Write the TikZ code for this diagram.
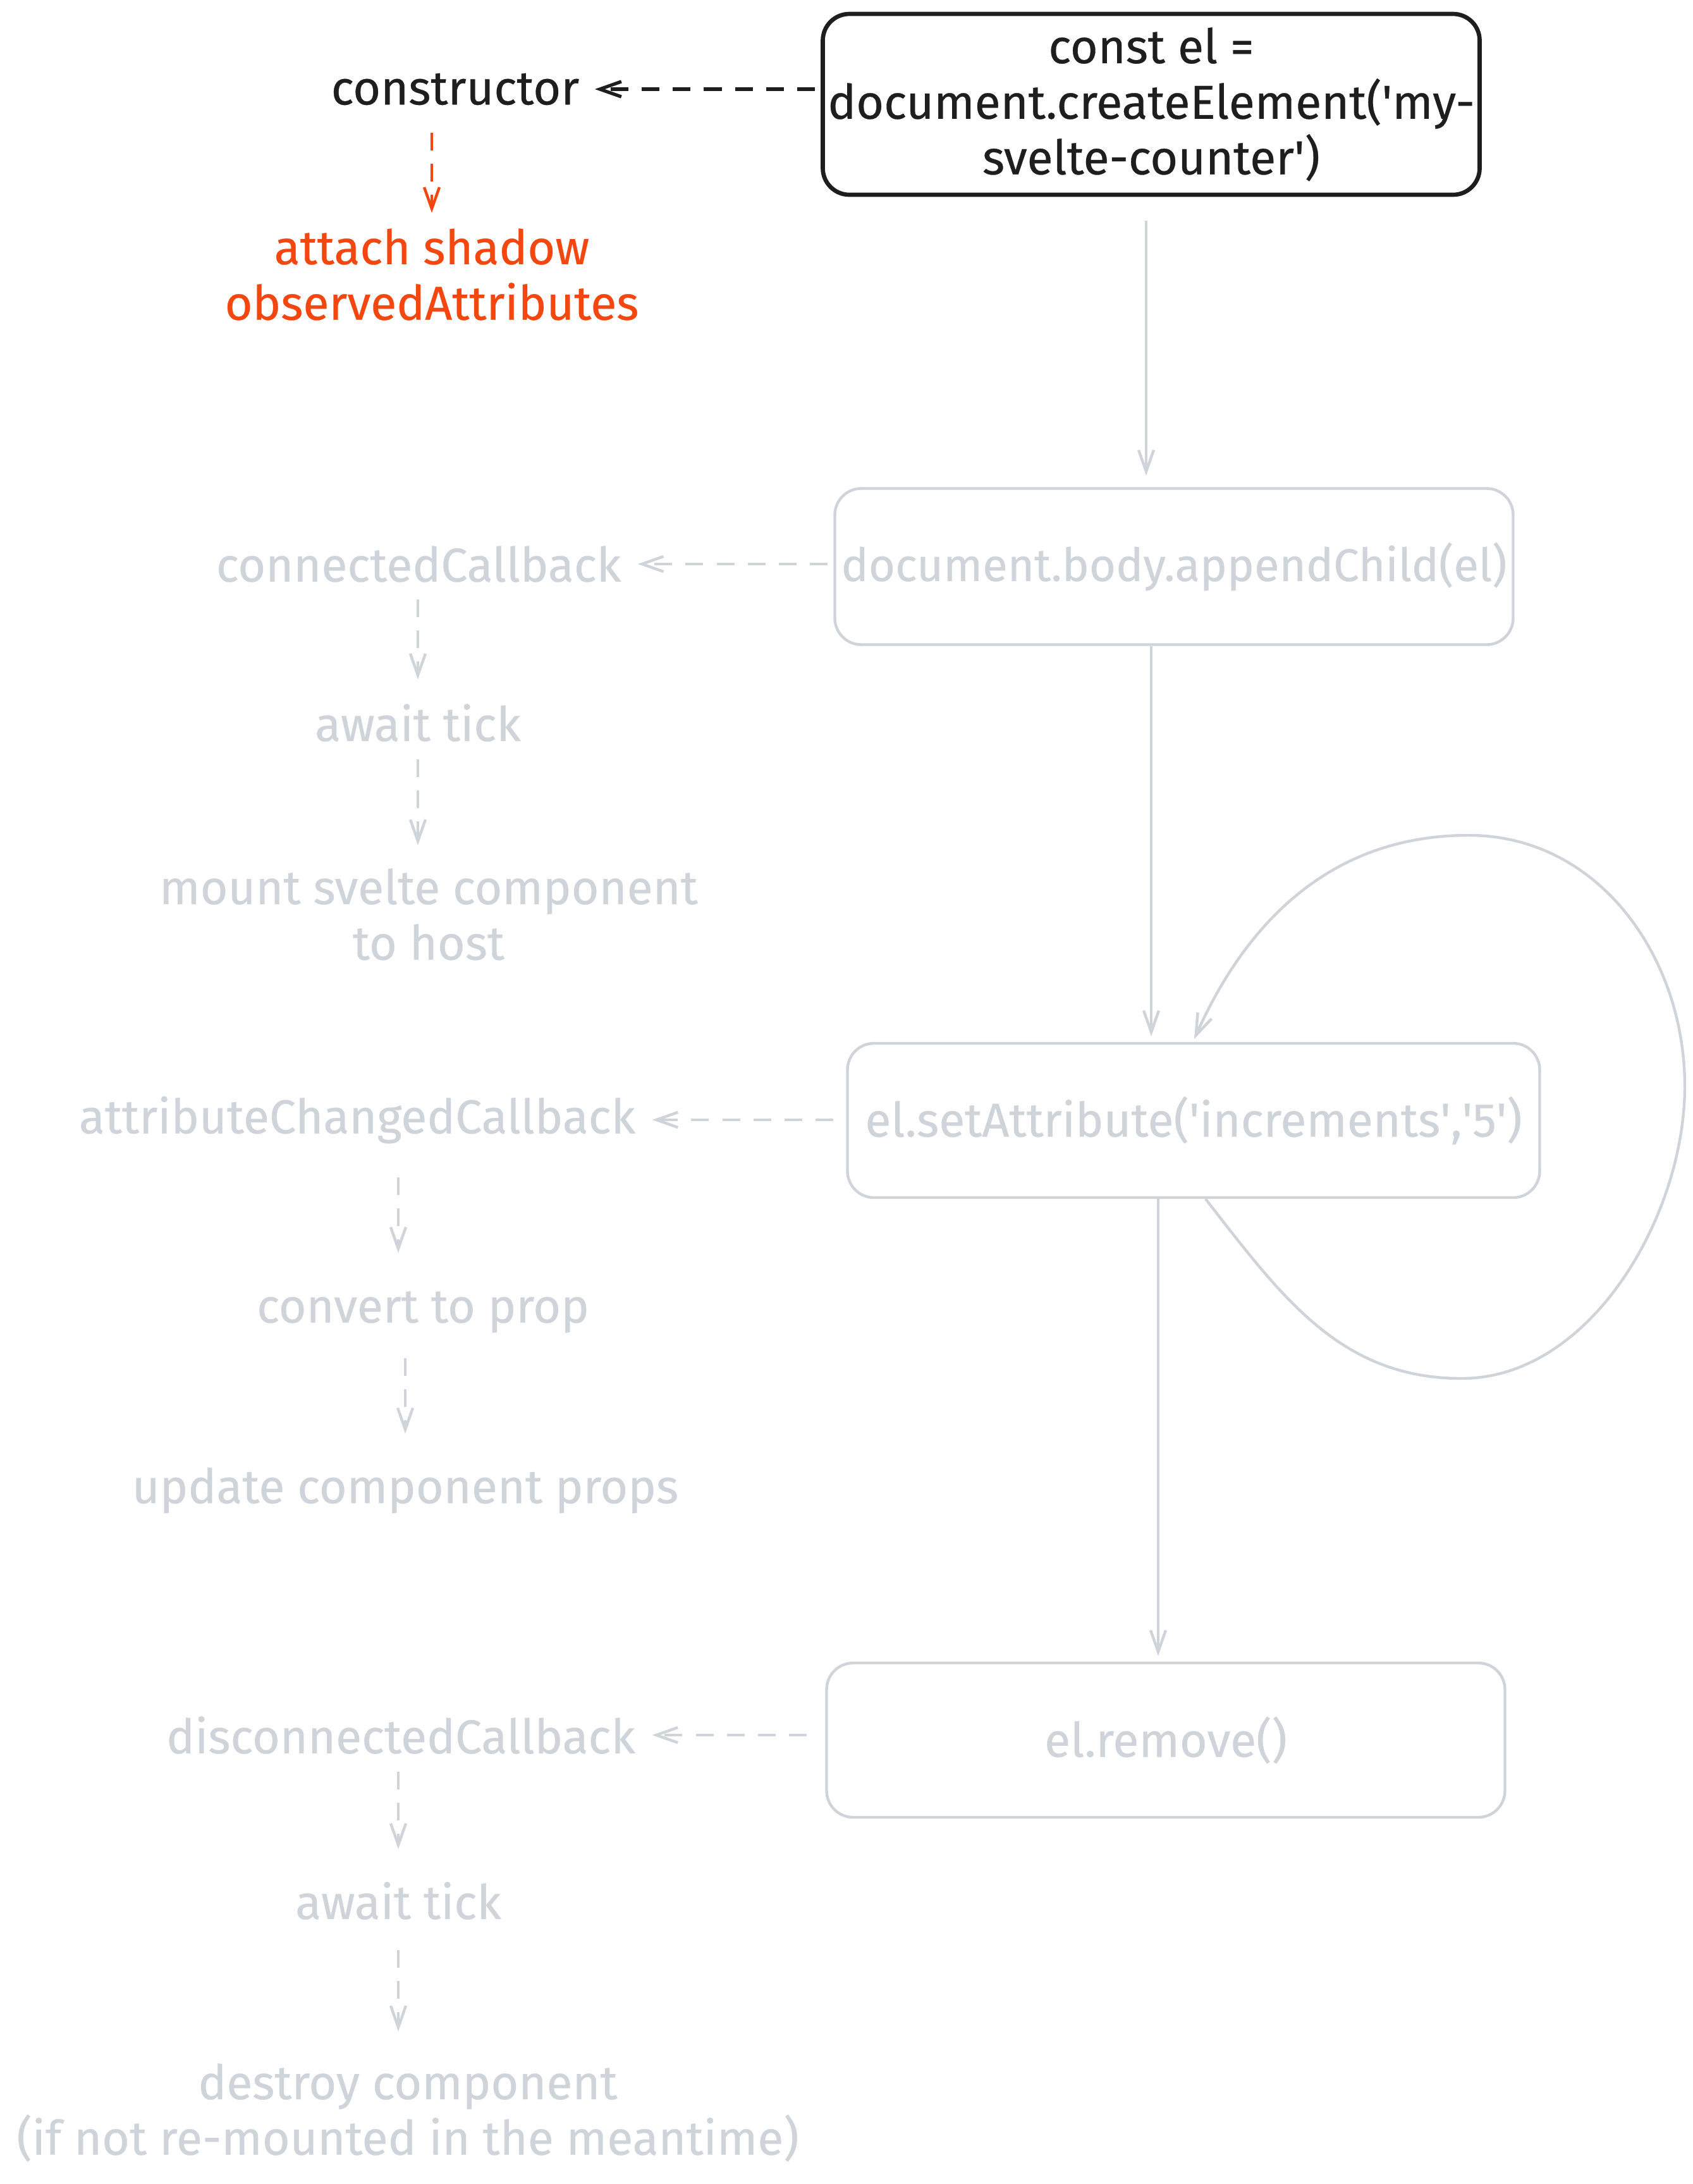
\documentclass[tikz,border=0pt]{standalone}
\usepackage{fontspec}
\setmainfont{Fira Sans}[UprightFeatures={FakeBold=0.4}]
\usetikzlibrary{arrows.meta}
\definecolor{ink}{HTML}{1E1E1E}
\definecolor{hot}{HTML}{F4470F}
\definecolor{mist}{HTML}{CED4DA}
\newcommand{\sq}{\textquotesingle}
\tikzset{
  hand/.style={font=\fontsize{21.4}{25}\selectfont},
  elbox/.style={hand, draw, align=center, rounded corners=0.42cm, inner sep=0pt, line width=1.25pt},
  cbtext/.style={hand, align=center, inner sep=0pt, minimum height=0.88cm},
  flow/.style={-{Straight Barb[length=0.34cm,width=0.24cm]}, line width=1.25pt},
  hint/.style={flow, dash pattern=on 8pt off 6pt},
}
\begin{document}
\begin{tikzpicture}
  \useasboundingbox (0,0) rectangle (26.78,-34.54);

  % Element calls
  \node[elbox, ink, line width=1.9pt, minimum width=10.39cm, minimum height=2.86cm] (create) at (18.21,-1.65) {const el =\\document.createElement(\sq my-\\svelte-counter\sq)};
  \node[elbox, mist, minimum width=10.73cm, minimum height=2.47cm, font=\fontsize{20.6}{25}\selectfont] (append) at (18.57,-8.96) {document.body.appendChild(el)};
  \node[elbox, mist, minimum width=10.95cm, minimum height=2.44cm] (setattr) at (18.88,-17.72) {el.setAttribute(\sq increments\sq,\sq 5\sq)};
  \node[elbox, mist, minimum width=10.73cm, minimum height=2.44cm] (remove) at (18.44,-27.52) {el.remove()};

  % Callbacks
  \node[cbtext, ink] (ctor) at (7.20,-1.41) {constructor};
  \node[cbtext, hot] (shadow) at (6.83,-4.34) {attach shadow\\observedAttributes};

  \node[cbtext, mist] (connected) at (6.62,-8.92) {connectedCallback};
  \node[cbtext, mist] (await1) at (6.61,-11.43) {await tick};
  \node[cbtext, mist] (mount) at (6.78,-14.46) {mount svelte component\\to host};

  \node[cbtext, mist] (attr) at (5.65,-17.71) {attributeChangedCallback};
  \node[cbtext, mist] (convert) at (6.69,-20.75) {convert to prop};
  \node[cbtext, mist] (update) at (6.41,-23.57) {update component props};

  \node[cbtext, mist] (disc) at (6.34,-27.44) {disconnectedCallback};
  \node[cbtext, mist] (await2) at (6.30,-30.06) {await tick};
  \node[cbtext, mist] (destroy) at (6.45,-33.41) {destroy component\\(if not re-mounted in the meantime)};

  % Main line
  \draw[flow, mist, shorten <=0.38cm, shorten >=0.18cm] ([xshift=-0.08cm]create.south) -- ([xshift=-0.08cm]create.south |- append.north);
  \draw[flow, mist, shorten >=0.09cm] ([xshift=-0.36cm]append.south) -- ([xshift=-0.36cm]append.south |- setattr.north);
  \draw[flow, mist, shorten >=0.09cm] ([xshift=-0.56cm]setattr.south) -- ([xshift=-0.56cm]setattr.south |- remove.north);

  % Loop back
  \coordinate (lpB) at (23.12,-21.80);
  \coordinate (lpR) at (26.65,-17.18);
  \coordinate (lpT) at (23.23,-13.21);
  \draw[flow, mist, shorten >=0.05cm] ([xshift=0.19cm]setattr.south) to[out=-52,in=180] (lpB) to[out=0,in=-90,looseness=0.9] (lpR) to[out=90,in=0] (lpT) to[out=180,in=66] ([xshift=-0.01cm]setattr.north);

  % Calls to callbacks
  \draw[hint, ink, line width=1.5pt, shorten <=0.09cm, shorten >=0.24cm] (ctor -| create.west) -- (ctor.east);
  \draw[hint, mist, shorten <=0.09cm, shorten >=0.26cm] (connected -| append.west) -- (connected.east);
  \draw[hint, mist, shorten <=0.2cm, shorten >=0.26cm] (attr -| setattr.west) -- (attr.east);
  \draw[hint, mist, shorten <=0.29cm, shorten >=0.26cm] (disc -| remove.west) -- (disc.east);

  % Steps
  \draw[hint, hot, shorten <=0.24cm, shorten >=0.24cm] (shadow.north |- ctor.south) -- (shadow.north);
  \draw[hint, mist, shorten <=0.11cm, shorten >=0.24cm] (await1.north |- connected.south) -- (await1.north);
  \draw[hint, mist, shorten <=0.13cm, shorten >=0.36cm] (await1.south) -- (await1.south |- mount.north);
  \draw[hint, mist, shorten <=0.46cm, shorten >=0.49cm] ([xshift=-0.39cm]convert.north |- attr.south) -- ([xshift=-0.39cm]convert.north);
  \draw[hint, mist, shorten <=0.28cm, shorten >=0.45cm] (update.north |- convert.south) -- (update.north);
  \draw[hint, mist, shorten <=0.13cm, shorten >=0.37cm] (await2.north |- disc.south) -- (await2.north);
  \draw[hint, mist, shorten <=0.33cm, shorten >=0.50cm] (await2.south) -- (await2.south |- destroy.north);
\end{tikzpicture}
\end{document}
